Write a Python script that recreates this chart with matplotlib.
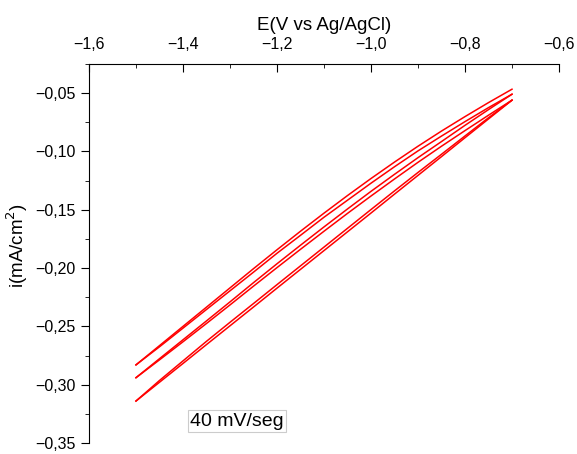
import matplotlib
matplotlib.use("Agg")
import matplotlib.pyplot as plt
from matplotlib.ticker import MultipleLocator, FuncFormatter

plt.rcParams['font.family'] = ['Liberation Sans', 'DejaVu Sans']

# potencial (V vs Ag/AgCl) y corriente de cada barrido (mA/cm2)
E = [-1.50, -1.45, -1.40, -1.35, -1.30, -1.25, -1.20, -1.15, -1.10,
     -1.05, -1.00, -0.95, -0.90, -0.85, -0.80, -0.75, -0.70]
b1 = [-0.283, -0.2665, -0.250, -0.2335, -0.217, -0.2005, -0.1843, -0.1684, -0.1529,
      -0.1378, -0.1232, -0.1091, -0.0955, -0.0825, -0.0701, -0.0581, -0.0466]
b2 = [-0.283, -0.2675, -0.2515, -0.2355, -0.2195, -0.2035, -0.1873, -0.1719, -0.1564,
      -0.1418, -0.1272, -0.1131, -0.0995, -0.0868, -0.0744, -0.0624, -0.0509]
b3 = [-0.294, -0.2777, -0.2615, -0.2453, -0.229, -0.2125, -0.1963, -0.1804, -0.1647,
      -0.1493, -0.1342, -0.1196, -0.1053, -0.0915, -0.0776, -0.0641, -0.0509]
b4 = [-0.294, -0.2787, -0.2632, -0.2475, -0.2316, -0.2155, -0.1996, -0.1839, -0.1684,
      -0.1531, -0.1382, -0.1236, -0.1093, -0.0955, -0.0821, -0.0689, -0.056]
b5 = [-0.314, -0.2979, -0.2818, -0.2656, -0.2495, -0.2334, -0.2172, -0.2011, -0.185,
      -0.1689, -0.1528, -0.1366, -0.1205, -0.1044, -0.0882, -0.0721, -0.056]
b6 = [-0.314, -0.2964, -0.2796, -0.2628, -0.2465, -0.2304, -0.2142, -0.1981, -0.182,
      -0.1659, -0.1498, -0.1338, -0.118, -0.1024, -0.0867, -0.0711, -0.056]
barridos = [b1, b2, b3, b4, b5, b6]

fig = plt.figure(figsize=(5.77, 4.54), dpi=100)
ax = fig.add_axes([0.1542, 0.0242, 0.8146, 0.8348])

for b in barridos:
    ax.plot(E, b, color='#ff0000', lw=1.1)

ax.set_xlim(-1.6, -0.6)
ax.set_ylim(-0.35, -0.025)

ax.spines['right'].set_visible(False)
ax.spines['bottom'].set_visible(False)

def coma(dec):
    return FuncFormatter(lambda v, p: f"{v:.{dec}f}".replace('.', ',').replace('-', '\u2212'))

ax.xaxis.set_major_locator(MultipleLocator(0.2))
ax.xaxis.set_minor_locator(MultipleLocator(0.1))
ax.yaxis.set_major_locator(MultipleLocator(0.05))
ax.yaxis.set_minor_locator(MultipleLocator(0.025))
ax.xaxis.set_major_formatter(coma(1))
ax.yaxis.set_major_formatter(coma(2))

ax.xaxis.tick_top()
ax.xaxis.set_label_position('top')
ax.tick_params(axis='x', which='major', direction='in', length=6, labelsize=11.5, pad=9)
ax.tick_params(axis='x', which='minor', direction='in', length=3)
ax.tick_params(axis='y', which='major', direction='out', length=6, labelsize=11.5)
ax.tick_params(axis='y', which='minor', direction='out', length=3)

ax.set_xlabel('E(V vs Ag/AgCl)', fontsize=13.5, labelpad=5)
ax.set_ylabel('i(mA/cm$^2$)', fontsize=13.5)
ax.yaxis.set_label_coords(-0.126, 0.52)

ax.text(0.315, 0.058, '40 mV/seg', transform=ax.transAxes, fontsize=14,
        ha='center', va='center',
        bbox=dict(boxstyle='square,pad=0.12', fc='white', ec='#cccccc', lw=0.8))

fig.savefig('out.png', dpi=100)
